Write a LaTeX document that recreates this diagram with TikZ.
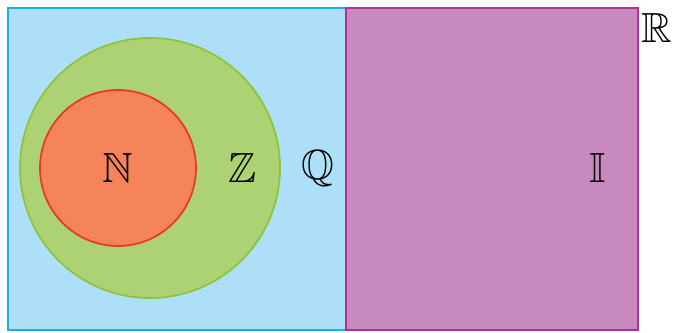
\documentclass[tikz,border=0pt]{standalone}
\usepackage{amsmath}
\usepackage{amssymb}
\usepackage{xcolor}
\usepackage{tikz}
\usetikzlibrary{positioning}

\definecolor{qfill}{HTML}{ADE0F8}
\definecolor{qline}{HTML}{1AAFE6}
\definecolor{ifill}{HTML}{C88ABE}
\definecolor{iline}{HTML}{B0309A}
\definecolor{zfill}{HTML}{ADD273}
\definecolor{zline}{HTML}{8CC43C}
\definecolor{nfill}{HTML}{F5845A}
\definecolor{nline}{HTML}{E83A20}

\begin{document}
\begin{tikzpicture}[
  x=0.02cm, y=-0.02cm,
  setbox/.style={draw, line width=1pt},
  lbl/.style={font=\fontsize{24}{28}\selectfont, inner sep=0pt}
]
  \useasboundingbox (0,0) rectangle (673,333);

  % Rationale und irrationale Zahlen
  \filldraw[setbox, fill=qfill, draw=qline] (8,8) rectangle (346,330);
  \filldraw[setbox, fill=ifill, draw=iline] (346,8) rectangle (638,330);

  % Ganze und natuerliche Zahlen
  \filldraw[setbox, fill=zfill, draw=zline] (150,168) circle [radius=130];
  \filldraw[setbox, fill=nfill, draw=nline] (118,168) circle [radius=78];

  % Beschriftungen
  \node[lbl] (natl) at (118,168) {$\mathbb{N}$};
  \node[lbl] (ganz) at (243,168) {$\mathbb{Z}$};
  \node[lbl] (rat)  at (318,168) {$\mathbb{Q}$};
  \node[lbl] (irr)  at (598,168) {$\mathbb{I}$};
  \node[lbl] (reel) at (657,28)  {$\mathbb{R}$};
\end{tikzpicture}
\end{document}
